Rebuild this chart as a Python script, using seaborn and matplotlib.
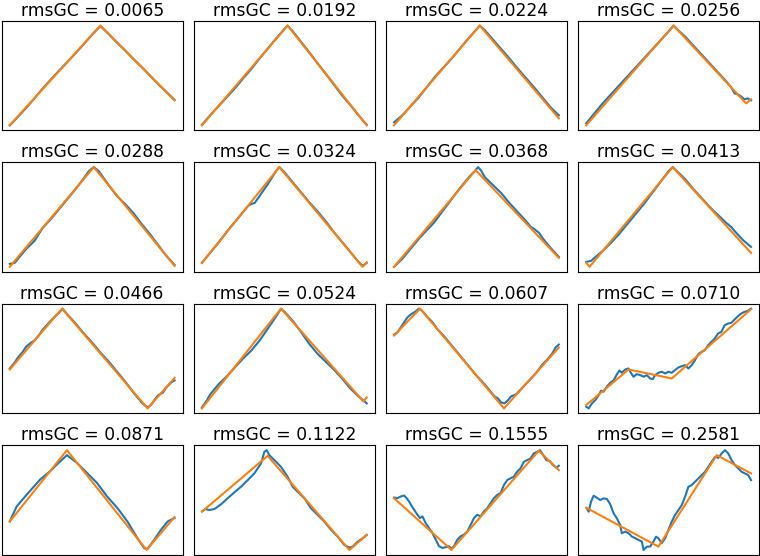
import matplotlib
matplotlib.use("Agg")
import matplotlib.pyplot as plt
import seaborn as sns

titles = ["rmsGC = 0.0065", "rmsGC = 0.0192", "rmsGC = 0.0224", "rmsGC = 0.0256",
          "rmsGC = 0.0288", "rmsGC = 0.0324", "rmsGC = 0.0368", "rmsGC = 0.0413",
          "rmsGC = 0.0466", "rmsGC = 0.0524", "rmsGC = 0.0607", "rmsGC = 0.0710",
          "rmsGC = 0.0871", "rmsGC = 0.1122", "rmsGC = 0.1555", "rmsGC = 0.2581"]

# Panel 1
p01_sig_x = [0, 5, 10, 15, 20, 25, 30, 35, 40, 45, 50, 55, 60, 65, 70, 75, 80, 85, 90, 95, 100]
p01_sig_y = [0, 8.5, 17.5, 27, 37, 46, 55, 63.5, 72.5, 81.5, 91, 99.5, 91.5, 83, 75, 66.5, 58.5, 50, 41.5, 33.5, 25.5]
p01_fit_x = [0, 55, 100]
p01_fit_y = [0, 100, 25]
# Panel 2
p02_sig_x = [0, 5, 10, 15, 20, 25, 30, 35, 40, 45, 50, 52, 55, 60, 65, 70, 75, 80, 85, 90, 95, 100]
p02_sig_y = [0.5, 10, 19, 28, 37, 47, 56.5, 67, 77, 87, 96.5, 100, 94.5, 84, 73.5, 62.5, 52, 41, 30, 20.5, 10, 0.5]
p02_fit_x = [0, 52, 100]
p02_fit_y = [0, 100, 0]
# Panel 3
p03_sig_x = [0, 5, 10, 15, 20, 25, 30, 35, 40, 45, 50, 52, 55, 60, 65, 70, 75, 80, 85, 90, 95, 100]
p03_sig_y = [3, 10, 19, 28, 38.5, 49, 58, 67, 77, 87, 96, 100, 95.5, 86, 76.5, 67, 57, 47.5, 38, 28, 18, 10]
p03_fit_x = [0, 52, 100]
p03_fit_y = [0, 100, 7]
# Panel 4
p04_sig_x = [0, 5, 10, 15, 20, 25, 30, 35, 40, 45, 50, 53, 56, 60, 65, 70, 75, 80, 85, 88, 90, 92, 94, 96, 98, 100]
p04_sig_y = [2, 12, 22, 31, 40, 49, 58, 67, 76, 85, 94, 100, 95, 89, 80, 71, 62, 53, 44, 38, 32, 31, 29, 26, 27, 25]
p04_fit_x = [0, 53, 97, 100]
p04_fit_y = [0, 100, 22, 26]
# Panel 5
p05_sig_x = [0, 3, 5, 10, 15, 18, 20, 25, 30, 35, 40, 45, 48, 51, 54, 57, 60, 65, 70, 75, 80, 85, 90, 95, 100]
p05_sig_y = [3, 4, 8, 18, 26, 34, 39, 48, 58, 68, 78, 89, 96, 100, 96, 89, 82, 71, 63, 54, 43, 33, 22, 11, 2]
p05_fit_x = [0, 51, 100]
p05_fit_y = [0, 100, 1]
# Panel 6
p06_sig_x = [0, 5, 10, 15, 20, 25, 28, 30, 32, 35, 40, 45, 47, 50, 55, 60, 65, 70, 75, 80, 85, 90, 95, 97.5, 100]
p06_sig_y = [4, 14, 24, 35, 45, 55, 61, 63, 64, 71, 83, 96, 100, 95, 85, 75, 65, 56, 46, 35, 25, 15, 5, 1, 4]
p06_fit_x = [0, 47, 97.5, 100]
p06_fit_y = [4, 100, 0, 4.5]
# Panel 7
p07_sig_x = [0, 5, 10, 15, 20, 23, 25, 30, 35, 40, 45, 49, 51, 53, 55, 60, 65, 70, 75, 80, 83, 85, 88, 90, 95, 100]
p07_sig_y = [0, 8, 18, 28, 37, 42, 46, 57, 68, 79, 89, 96, 100, 96, 90, 82, 74, 64, 55, 46, 40, 38, 34, 29, 19, 10]
p07_fit_x = [0, 49.5, 100]
p07_fit_y = [0, 97, 9]
# Panel 8
p08_sig_x = [0, 3, 5, 10, 15, 20, 25, 30, 35, 40, 45, 50, 52.5, 55, 60, 65, 70, 75, 78, 80, 85, 88, 90, 95, 100]
p08_sig_y = [5, 6, 9, 16, 24, 33, 43, 53, 63, 74, 85, 96, 100, 96, 88, 78, 69, 60, 55, 52, 44, 40, 36, 27, 20]
p08_fit_x = [0, 2, 52.5, 100]
p08_fit_y = [4, 0, 100, 14]
# Panel 9
p09_sig_x = [0, 3, 5, 8, 10, 13, 15, 18, 20, 25, 28, 30, 32, 35, 40, 45, 50, 55, 60, 65, 70, 75, 80, 82, 84, 86, 88, 90, 93, 95, 98, 100]
p09_sig_y = [40, 46, 51, 57, 62, 66, 68, 74, 79, 88, 93, 96, 100, 94, 85, 75, 66, 56, 47, 37, 27, 16, 6, 3, 1, 4, 9, 13, 16, 21, 26, 28]
p09_fit_x = [0, 31.7, 83.6, 100]
p09_fit_y = [39, 100, 0, 30.5]
# Panel 10
p10_sig_x = [0, 3, 5, 8, 10, 15, 20, 25, 30, 35, 40, 45, 48, 50, 55, 60, 65, 70, 75, 80, 85, 90, 95, 98, 100]
p10_sig_y = [1, 8, 14, 20, 24, 32, 41, 50, 58, 68, 80, 92, 100, 97, 88, 77, 65, 55, 47, 39, 30, 20, 12, 8, 5]
p10_fit_x = [0, 48, 98, 100]
p10_fit_y = [0, 100, 7, 11]
# Panel 11
p11_sig_x = [0, 2, 4, 6, 8, 10, 13, 15, 17, 20, 23, 26, 30, 35, 40, 45, 50, 55, 58, 61, 63, 65, 67, 69, 71, 74, 78, 82, 86, 90, 93, 96, 98, 100]
p11_sig_y = [74, 76, 81, 86, 91, 94, 97, 100, 98, 92, 87, 80, 73, 63, 53, 43, 33, 24, 18, 12, 10, 6, 5, 8, 12, 14, 21, 28, 35, 44, 49, 55, 61, 64]
p11_fit_x = [0, 15.8, 66.7, 100]
p11_fit_y = [73, 100, 0, 61]
# Panel 12
p12_sig_x = [0, 1.5, 3.5, 5.5, 7.5, 9, 10.5, 12.6, 14.6, 16.6, 18.6, 20.2, 21.6, 23.7, 25.7, 27.1, 28.7, 30.7, 32.8, 34.8,
             36.8, 38.8, 40.4, 41.8, 43.8, 45.9, 47.9, 49.9, 51.9, 53.9, 55.9, 58, 60, 62, 64, 66, 68, 70, 72, 74,
             76, 78, 80, 82, 84, 86, 88, 90, 92, 94, 96, 98, 100]
p12_sig_y = [1.7, 0, 5, 8.3, 13, 17.7, 16.7, 22, 25.7, 28, 34, 38, 35.7, 39, 40, 35.7, 31.7, 34.3, 33.3, 31.7,
             33.3, 30, 29.3, 33.3, 35.7, 36.7, 35, 36.7, 35.7, 38.3, 41, 42.3, 43.3, 40, 43.3, 48.3, 54.3, 56.7, 58.3, 63.3,
             66.7, 70, 75, 76.7, 83.3, 85, 85.7, 89, 92.3, 95, 96.7, 97.7, 100]
p12_fit_x = [0, 25.7, 51.9, 100]
p12_fit_y = [3.3, 39, 30, 99.3]
# Panel 13
p13_sig_x = [0, 4.2, 10.3, 18.4, 24.5, 29.6, 34.7, 40.8, 47, 53, 59, 65.3, 71.4, 77.5, 81.6, 83.6, 87.6, 91.7, 95.8, 100]
p13_sig_y = [28.5, 43.6, 55.4, 70.5, 78.9, 87.2, 95, 87.2, 77, 67, 53.7, 42, 28.5, 11.7, 1.7, 1, 10, 20, 28.5, 32]
p13_fit_x = [0, 34.7, 83, 100]
p13_fit_y = [28.5, 100, 0, 32.9]
# Panel 14
p14_sig_x = [0.5, 2, 4.5, 7.6, 11.6, 15.6, 19.7, 23.7, 27.8, 31.8, 35.9, 37.9, 39.3, 40.9, 44, 48, 52, 55.1, 58.1, 62.2,
             66.2, 70.3, 74.3, 78.4, 82.4, 86.4, 89.5, 91.5, 94.5, 97.6, 100]
p14_sig_y = [39, 41, 40, 41, 45.7, 51.7, 57.7, 63.3, 70, 76.7, 86.7, 98.3, 100, 95, 90, 83.3, 73.3, 63.3, 58.3, 51.7,
             41.7, 35, 28.3, 20, 13.3, 5, 2.3, 3.3, 8.3, 11.7, 15]
p14_fit_x = [0, 39.9, 89.5, 100]
p14_fit_y = [38.3, 94.3, 0, 15]
# Panel 15
p15_sig_x = [0, 2, 4, 6.1, 7.7, 9.1, 10.5, 12.2, 14.2, 15.8, 17.2, 19.2, 21.2, 23.3, 25.3, 27.3, 29.3, 31.3, 33.3, 34.8,
             36.4, 38.4, 40.4, 42.4, 44.5, 46.5, 48.5, 50.5, 52.5, 54.5, 56.6, 58.6, 60.6, 62.6, 64.6, 66.7, 68.7, 70.7,
             72.7, 74.7, 76.7, 78.8, 80.8, 82.8, 84.8, 86.8, 88.5, 90.5, 92.5, 94.5, 96.5, 98.5, 100]
p15_sig_y = [52.5, 51.8, 53.5, 54.5, 51.8, 48.5, 44.5, 40.2, 35.2, 31.9, 33.6, 26.9, 21.9, 16.9, 10.3, 3.7, 2, 2.7, 3.7, 1.3,
             3.7, 10.3, 13.6, 15.3, 18.6, 25.2, 31.9, 35.2, 33.6, 38.5, 41.9, 46.8, 51.8, 55.1, 56.8, 65.1, 70.1, 71.8,
             73.4, 78.4, 81.7, 88.4, 90, 91.7, 96.7, 98.3, 100, 95, 90, 89, 85, 82.4, 84.4]
p15_fit_x = [0, 34.8, 87.8, 100]
p15_fit_y = [51.8, 0, 99.3, 80]
# Panel 16
p16_sig_x = [0.4, 1.5, 2.9, 4.5, 6.5, 8.5, 10.5, 12.6, 14.6, 16.6, 18.6, 20.6, 21.6, 23.7, 25.7, 27.8, 29.8, 31.8, 33.8, 34.8,
             36.8, 38.8, 40.8, 42.4, 43.8, 45.8, 47.9, 49.9, 51.9, 53.9, 56, 58, 60, 62, 64, 66, 68.1, 70.1, 72.1,
             74.1, 76.1, 78.2, 80.2, 82.2, 84.2, 86.2, 88.2, 90.3, 92.3, 94.3, 96.3, 98.3, 100]
p16_sig_y = [41.7, 38.3, 48.3, 54.3, 52.3, 50, 51.7, 51, 45.7, 36.7, 31.7, 25, 16.7, 18.3, 16.7, 13.3, 11.7, 10, 8.3, 0,
             3.3, 3.3, 8.3, 13.3, 11.7, 6.7, 11.7, 20, 28.3, 35, 40, 45, 53.3, 63.3, 65, 68.3, 71.7, 75, 78.3,
             83.3, 88.3, 93.3, 92.3, 96.7, 100, 96.7, 90, 85, 81.7, 78.3, 76.7, 75, 70]
p16_fit_x = [0, 43.8, 79.2, 100]
p16_fit_y = [42.3, 3.3, 95, 76.7]

panels = [
    (p01_sig_x, p01_sig_y, p01_fit_x, p01_fit_y), (p02_sig_x, p02_sig_y, p02_fit_x, p02_fit_y),
    (p03_sig_x, p03_sig_y, p03_fit_x, p03_fit_y), (p04_sig_x, p04_sig_y, p04_fit_x, p04_fit_y),
    (p05_sig_x, p05_sig_y, p05_fit_x, p05_fit_y), (p06_sig_x, p06_sig_y, p06_fit_x, p06_fit_y),
    (p07_sig_x, p07_sig_y, p07_fit_x, p07_fit_y), (p08_sig_x, p08_sig_y, p08_fit_x, p08_fit_y),
    (p09_sig_x, p09_sig_y, p09_fit_x, p09_fit_y), (p10_sig_x, p10_sig_y, p10_fit_x, p10_fit_y),
    (p11_sig_x, p11_sig_y, p11_fit_x, p11_fit_y), (p12_sig_x, p12_sig_y, p12_fit_x, p12_fit_y),
    (p13_sig_x, p13_sig_y, p13_fit_x, p13_fit_y), (p14_sig_x, p14_sig_y, p14_fit_x, p14_fit_y),
    (p15_sig_x, p15_sig_y, p15_fit_x, p15_fit_y), (p16_sig_x, p16_sig_y, p16_fit_x, p16_fit_y),
]

fig, axes = plt.subplots(4, 4, figsize=(7.6, 5.56), dpi=100)
fig.subplots_adjust(left=0.002, right=0.999, bottom=0.002, top=0.963, wspace=0.06, hspace=0.29)

for ax, title, (sx, sy, fx, fy) in zip(axes.flat, titles, panels):
    sns.lineplot(x=sx, y=sy, ax=ax, color="#1f77b4", linewidth=1.5, sort=False, estimator=None)
    sns.lineplot(x=fx, y=fy, ax=ax, color="#ff7f0e", linewidth=1.5, sort=False, estimator=None)
    ax.set_xticks([])
    ax.set_yticks([])
    ax.set_xlabel("")
    ax.set_ylabel("")
    ax.set_title(title, fontsize=12.3, pad=3.5)

fig.savefig("out.png", dpi=100)
